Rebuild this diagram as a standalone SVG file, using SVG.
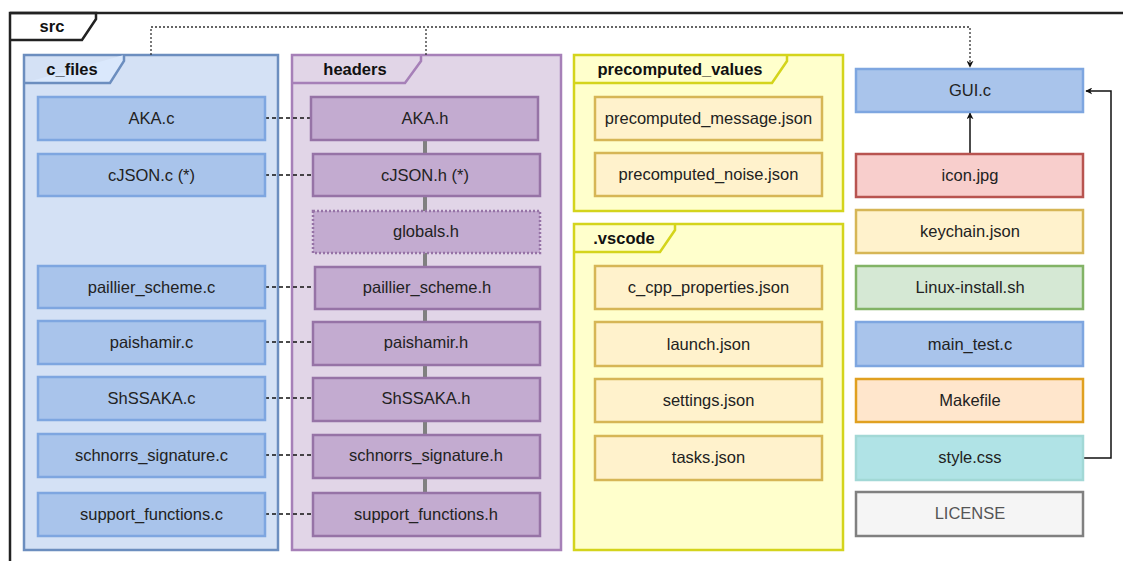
<svg xmlns="http://www.w3.org/2000/svg" width="1123" height="561" viewBox="0 0 1123 561">
  <style>
    text { font-family: "Liberation Sans", Arial, sans-serif; font-size: 16.5px; fill: #222; text-anchor: middle; }
    .lbl { font-weight: bold; fill: #111; }
    .cnode { fill: #a9c4eb; stroke: #7ea6e0; stroke-width: 2.5; }
    .hnode { fill: #c3abd0; stroke: #9673a6; stroke-width: 2.5; }
    .jnode { fill: #fff2cc; stroke: #d6b656; stroke-width: 2.5; }
    .link { fill: none; stroke: #111; stroke-width: 1.3; stroke-dasharray: 4 3; }
    .chain { fill: none; stroke: #808080; stroke-width: 4; }
    .dep { fill: none; stroke: #333; stroke-width: 1.3; stroke-dasharray: 2 2; }
    .solid { fill: none; stroke: #111; stroke-width: 1.5; }
  </style>
  <defs>
    <marker id="arr" viewBox="0 0 10 10" refX="9" refY="5" markerWidth="7" markerHeight="7" orient="auto" markerUnits="userSpaceOnUse">
      <path d="M0,0 L10,5 L0,10 L3,5 Z" fill="#111"/>
    </marker>
  </defs>

  <rect width="1123" height="561" fill="#ffffff"/>

  <!-- src folder frame -->
  <g id="src">
    <path d="M1130,13 L10,13 L10,570" fill="none" stroke="#222" stroke-width="2.5"/>
    <path d="M10,13 L96,13 L96,19 L82,40 L10,40" fill="none" stroke="#222" stroke-width="2.5"/>
    <text class="lbl" x="52" y="32">src</text>
  </g>

  <!-- c_files folder -->
  <g id="c_files">
    <rect x="24" y="55" width="254" height="495" fill="#d4e1f5" stroke="#6c8ebf" stroke-width="2.5"/>
    <path d="M24,83 L110,83 L124,61 L124,55" fill="#dae8fc" stroke="#6c8ebf" stroke-width="2.5"/>
    <text class="lbl" x="72" y="75">c_files</text>
  </g>

  <!-- headers folder -->
  <g id="headers">
    <rect x="292" y="55" width="269" height="495" fill="#e1d5e7" stroke="#a680b8" stroke-width="2.5"/>
    <path d="M292,83 L405,83 L421,61 L421,55" fill="none" stroke="#a680b8" stroke-width="2.5"/>
    <text class="lbl" x="355" y="75">headers</text>
  </g>

  <!-- precomputed_values folder -->
  <g id="precomputed_values">
    <rect x="574" y="55" width="269" height="156" fill="#ffffcc" stroke="#d4d41c" stroke-width="2.5"/>
    <path d="M574,83 L772,83 L787,61 L787,55" fill="none" stroke="#d4d41c" stroke-width="2.5"/>
    <text class="lbl" x="680" y="75">precomputed_values</text>
  </g>

  <!-- .vscode folder -->
  <g id="vscode">
    <rect x="574" y="224" width="269" height="326" fill="#ffffcc" stroke="#d4d41c" stroke-width="2.5"/>
    <path d="M574,252 L660,252 L675,230 L675,224" fill="none" stroke="#d4d41c" stroke-width="2.5"/>
    <text class="lbl" x="624" y="244">.vscode</text>
  </g>

  <!-- connectors -->
  <g id="connectors">
    <!-- header include chain -->
    <path class="chain" d="M425,140 V154 M425,196 V211 M425,253 V267 M425,309 V322 M425,365 V378 M425,421 V435 M425,478 V493"/>
    <!-- source/header pairs -->
    <path class="link" d="M265,118 H311 M265,175 H311 M265,287 H313 M265,342 H313 M265,398 H313 M265,455 H313 M265,514 H313"/>
    <!-- folders feeding GUI.c -->
    <path class="dep" d="M151,55 V27 H970 V67" marker-end="url(#arr)"/>
    <path class="dep" d="M426,55 V27"/>
    <!-- icon.jpg to GUI.c -->
    <path class="solid" d="M970,154 V113" marker-end="url(#arr)"/>
    <!-- style.css to GUI.c -->
    <path class="solid" d="M1084,458 H1111 V91 H1086" marker-end="url(#arr)"/>
  </g>

  <!-- c source files -->
  <g id="AKA_c"><rect class="cnode" x="38" y="97" width="227" height="43"/><text x="151.5" y="124">AKA.c</text></g>
  <g id="cJSON_c"><rect class="cnode" x="38" y="154" width="227" height="42"/><text x="151.5" y="181">cJSON.c (*)</text></g>
  <g id="paillier_scheme_c"><rect class="cnode" x="38" y="266" width="227" height="42"/><text x="151.5" y="293">paillier_scheme.c</text></g>
  <g id="paishamir_c"><rect class="cnode" x="38" y="321" width="227" height="43"/><text x="151.5" y="348">paishamir.c</text></g>
  <g id="ShSSAKA_c"><rect class="cnode" x="38" y="377" width="227" height="43"/><text x="151.5" y="404">ShSSAKA.c</text></g>
  <g id="schnorrs_signature_c"><rect class="cnode" x="38" y="434" width="227" height="43"/><text x="151.5" y="461">schnorrs_signature.c</text></g>
  <g id="support_functions_c"><rect class="cnode" x="38" y="493" width="227" height="43"/><text x="151.5" y="520">support_functions.c</text></g>

  <!-- header files -->
  <g id="AKA_h"><rect class="hnode" x="311" y="97" width="227" height="43"/><text x="425" y="124">AKA.h</text></g>
  <g id="cJSON_h"><rect class="hnode" x="313" y="154" width="227" height="42"/><text x="425" y="181">cJSON.h (*)</text></g>
  <g id="globals_h"><rect class="hnode" x="313" y="211" width="227" height="42" stroke-dasharray="2 2"/><text x="426" y="237">globals.h</text></g>
  <g id="paillier_scheme_h"><rect class="hnode" x="315" y="267" width="225" height="42"/><text x="427" y="293">paillier_scheme.h</text></g>
  <g id="paishamir_h"><rect class="hnode" x="313" y="322" width="227" height="43"/><text x="426" y="348">paishamir.h</text></g>
  <g id="ShSSAKA_h"><rect class="hnode" x="313" y="378" width="227" height="43"/><text x="426" y="404">ShSSAKA.h</text></g>
  <g id="schnorrs_signature_h"><rect class="hnode" x="313" y="435" width="227" height="43"/><text x="426" y="461">schnorrs_signature.h</text></g>
  <g id="support_functions_h"><rect class="hnode" x="313" y="493" width="227" height="43"/><text x="426" y="520">support_functions.h</text></g>

  <!-- precomputed values -->
  <g id="precomputed_message_json"><rect class="jnode" x="595" y="97" width="227" height="43"/><text x="708.5" y="124">precomputed_message.json</text></g>
  <g id="precomputed_noise_json"><rect class="jnode" x="595" y="153" width="227" height="43"/><text x="708.5" y="180">precomputed_noise.json</text></g>

  <!-- vscode settings -->
  <g id="c_cpp_properties_json"><rect class="jnode" x="595" y="266" width="227" height="43"/><text x="708.5" y="293">c_cpp_properties.json</text></g>
  <g id="launch_json"><rect class="jnode" x="595" y="322" width="227" height="44"/><text x="708.5" y="350">launch.json</text></g>
  <g id="settings_json"><rect class="jnode" x="595" y="379" width="227" height="43"/><text x="708.5" y="406">settings.json</text></g>
  <g id="tasks_json"><rect class="jnode" x="595" y="436" width="227" height="44"/><text x="708.5" y="463">tasks.json</text></g>

  <!-- top-level files -->
  <g id="GUI_c"><rect class="cnode" x="856" y="69" width="227" height="43"/><text x="970" y="96">GUI.c</text></g>
  <g id="icon_jpg"><rect x="856" y="154" width="227" height="43" fill="#f8cecc" stroke="#b85450" stroke-width="2.5"/><text x="970" y="181">icon.jpg</text></g>
  <g id="keychain_json"><rect class="jnode" x="856" y="210" width="227" height="43"/><text x="970" y="237">keychain.json</text></g>
  <g id="Linux_install_sh"><rect x="856" y="266" width="227" height="43" fill="#d5e8d4" stroke="#82b366" stroke-width="2.5"/><text x="970" y="293">Linux-install.sh</text></g>
  <g id="main_test_c"><rect class="cnode" x="856" y="322" width="227" height="44"/><text x="970" y="350">main_test.c</text></g>
  <g id="Makefile"><rect x="856" y="379" width="227" height="43" fill="#ffe6cc" stroke="#e0a020" stroke-width="2.5"/><text x="970" y="406">Makefile</text></g>
  <g id="style_css"><rect x="856" y="436" width="227" height="44" fill="#b0e3e6" stroke="#a2d8d6" stroke-width="2.5"/><text x="970" y="463">style.css</text></g>
  <g id="LICENSE"><rect x="856" y="492" width="227" height="44" fill="#f5f5f5" stroke="#808080" stroke-width="2.5"/><text x="970" y="519" style="fill:#555">LICENSE</text></g>
</svg>
